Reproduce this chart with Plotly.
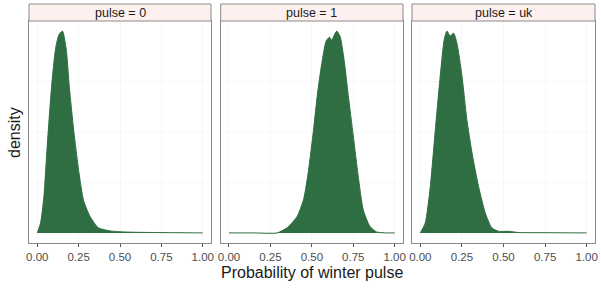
import plotly.graph_objects as go

# ---- data ----
panels = ["pulse = 0", "pulse = 1", "pulse = uk"]

p0_x = [0.0, 0.02, 0.04, 0.06, 0.086, 0.11, 0.13, 0.152, 0.175, 0.194, 0.22, 0.25, 0.28, 0.32, 0.37, 0.44, 0.55, 0.7, 0.85, 1.0]
p0_y = [0.0, 0.05, 0.18, 0.43, 0.72, 0.91, 0.98, 1.0, 0.91, 0.72, 0.51, 0.31, 0.16, 0.08, 0.025, 0.01, 0.004, 0.002, 0.001, 0.0]

p1_x = [0.0, 0.15, 0.29, 0.35, 0.41, 0.45, 0.48, 0.51, 0.534, 0.56, 0.586, 0.606, 0.62, 0.635, 0.65, 0.67, 0.694, 0.72, 0.75, 0.78, 0.81, 0.85, 0.89, 0.95, 1.0]
p1_y = [0.0, 0.0, 0.0, 0.025, 0.08, 0.165, 0.31, 0.51, 0.69, 0.84, 0.95, 0.97, 0.955, 0.98, 1.0, 0.975, 0.86, 0.68, 0.48, 0.28, 0.115, 0.033, 0.005, 0.0, 0.0]

p2_x = [0.0, 0.03, 0.06, 0.09, 0.12, 0.144, 0.16, 0.18, 0.2, 0.22, 0.25, 0.28, 0.31, 0.35, 0.39, 0.43, 0.47, 0.53, 0.59, 0.75, 1.0]
p2_y = [0.0, 0.05, 0.23, 0.51, 0.78, 0.96, 1.0, 0.975, 0.99, 0.94, 0.78, 0.56, 0.40, 0.23, 0.10, 0.025, 0.008, 0.008, 0.002, 0.001, 0.0]

series_x = [p0_x, p1_x, p2_x]
series_y = [p0_y, p1_y, p2_y]

tick_vals = [0, 0.25, 0.5, 0.75, 1.0]
tick_text = ["0.00", "0.25", "0.50", "0.75", "1.00"]

FILL = "#2f6e43"
FONT = "Liberation Sans, Arial, Helvetica, sans-serif"

W, H = 601, 288
ML, MR, MT, MB = 29, 6, 4, 45
pw = W - ML - MR
ph = H - MT - MB

# panel pixel extents (left, right)
px = [(29, 211), (220.7, 403), (412, 595)]
domains = [((a - ML) / pw, min(1.0, (b - ML) / pw)) for a, b in px]
y_top = (243 - 21) / ph

fig = go.Figure()
for i in range(3):
    xa = "x" if i == 0 else f"x{i+1}"
    ya = "y" if i == 0 else f"y{i+1}"
    fig.add_trace(go.Scatter(
        x=series_x[i], y=series_y[i], mode="lines", fill="tozeroy",
        fillcolor=FILL, line=dict(color=FILL, width=1, shape="spline", smoothing=0.6),
        xaxis=xa, yaxis=ya, showlegend=False, hoverinfo="skip"))

layout = dict(
    width=W, height=H, margin=dict(l=ML, r=MR, t=MT, b=MB),
    paper_bgcolor="white", plot_bgcolor="white",
    font=dict(family=FONT, color="#333333"),
    showlegend=False,
)
shapes = []
annotations = []
for i in range(3):
    key = "" if i == 0 else str(i + 1)
    layout["xaxis" + key] = dict(
        domain=list(domains[i]), range=[-0.05, 1.05], anchor="y" + key,
        tickvals=tick_vals, ticktext=tick_text, ticks="outside", ticklen=3,
        tickcolor="#555555", tickfont=dict(size=11.5, color="#4d4d4d", family=FONT),
        showline=True, mirror=True, linecolor="#8a8a8a", linewidth=1,
        showgrid=True, gridcolor="#f7f7f7", zeroline=False, fixedrange=True)
    layout["yaxis" + key] = dict(
        domain=[0, y_top], range=[-0.05, 1.05], anchor="x" + key,
        showticklabels=False, ticks="", showline=True, mirror=True,
        linecolor="#8a8a8a", linewidth=1, showgrid=True, gridcolor="#f7f7f7",
        tickvals=[0.25, 0.5, 0.75], zeroline=False, fixedrange=True)
    x0, x1 = domains[i]
    shapes.append(dict(type="rect", xref="paper", yref="paper",
                       x0=x0, x1=x1, y0=y_top, y1=1.0,
                       fillcolor="#fdf0ee", line=dict(color="#8a8a8a", width=1)))
    annotations.append(dict(text=panels[i], xref="paper", yref="paper",
                            x=(x0 + x1) / 2, y=(y_top + 1) / 2, showarrow=False,
                            xanchor="center", yanchor="middle",
                            font=dict(size=12.5, color="#1a1a1a", family=FONT)))

annotations.append(dict(text="Probability of winter pulse", xref="paper", yref="paper",
                        x=0.5, y=-0.08, yanchor="top", showarrow=False,
                        font=dict(size=16, color="#1a1a1a", family=FONT)))
annotations.append(dict(text="density", xref="paper", yref="paper",
                        x=-0.008, y=y_top / 2, xanchor="right", textangle=-90,
                        showarrow=False, font=dict(size=16, color="#1a1a1a", family=FONT)))
layout["shapes"] = shapes
layout["annotations"] = annotations
fig.update_layout(**layout)
fig.write_html("out.html", config={"displayModeBar": False},
               post_script="document.body.style.margin='0';")
